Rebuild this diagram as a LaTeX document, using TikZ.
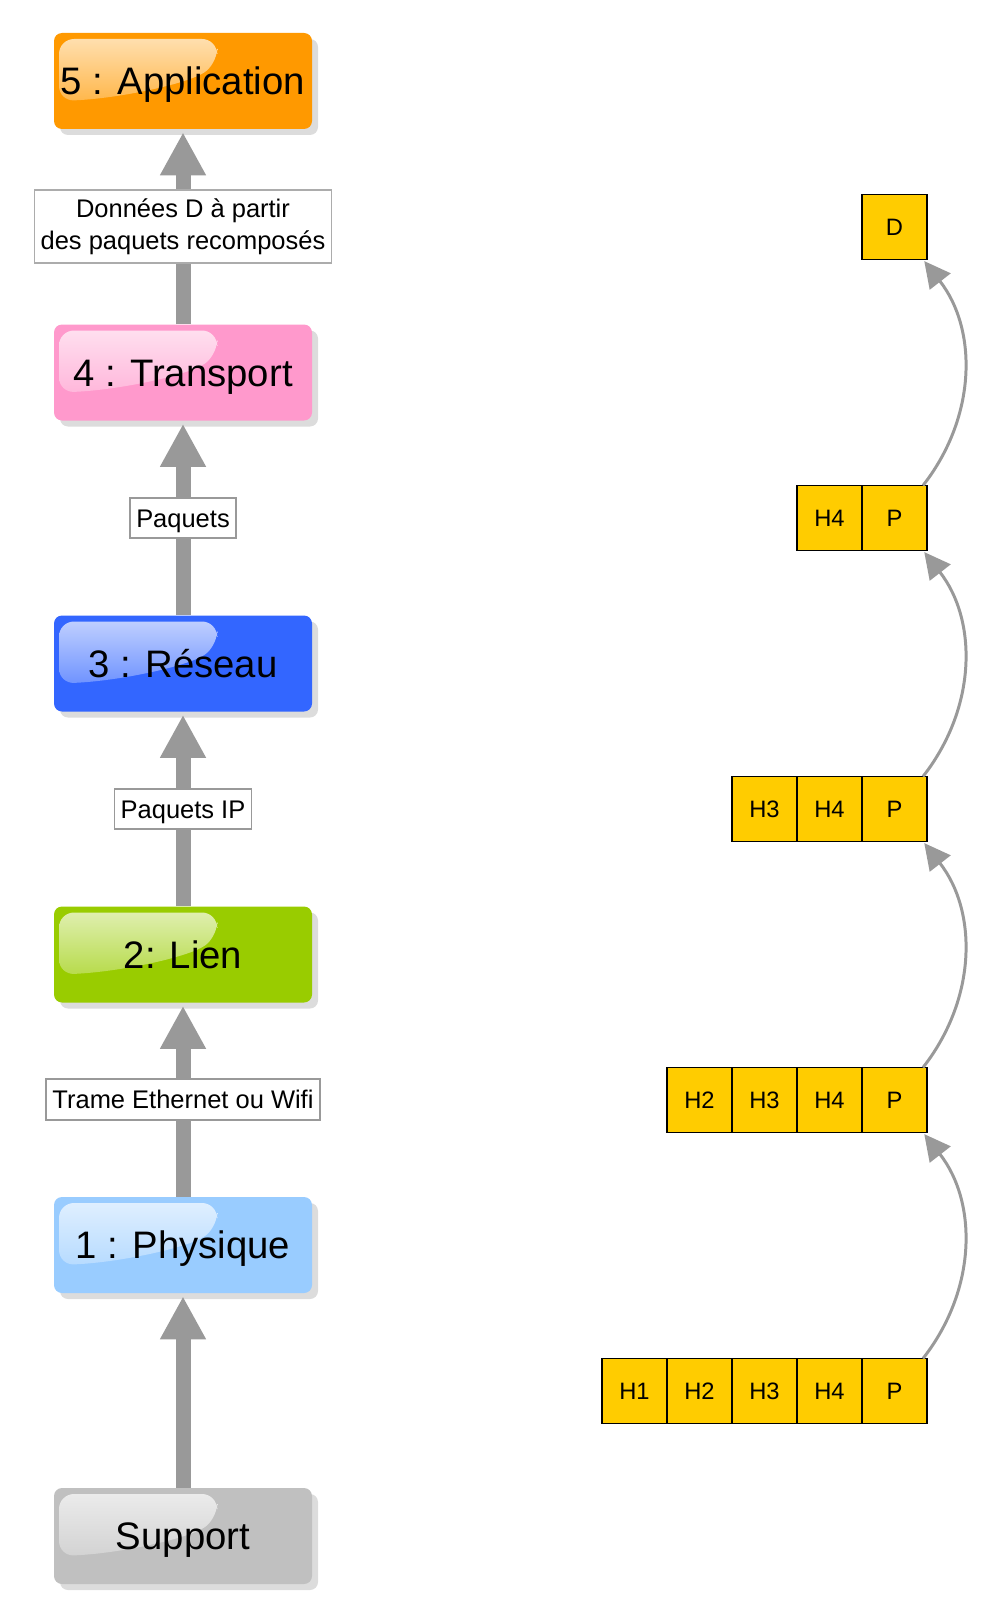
\documentclass[tikz,border=0pt]{standalone}
\usepackage{fontspec}
\setmainfont{Liberation Sans}
\usetikzlibrary{arrows.meta,shadows,positioning}
\definecolor{appli}{HTML}{FF9900}
\definecolor{transp}{HTML}{FF99CC}
\definecolor{reseau}{HTML}{3366FF}
\definecolor{lien}{HTML}{99CC00}
\definecolor{phys}{HTML}{99CCFF}
\definecolor{supp}{HTML}{C0C0C0}
\definecolor{paquet}{HTML}{FFCC00}
\definecolor{fleche}{HTML}{999999}

\begin{document}
\begin{tikzpicture}
      [layer node/.style={rectangle,rounded corners=0.16cm,fill=#1,minimum width=5.16cm,minimum height=1.92cm,
         inner sep=0pt,text height=15.6pt,text depth=0pt,font=\fontsize{21.8}{26}\selectfont,
         drop shadow={shadow xshift=0.12cm,shadow yshift=-0.12cm,opacity=0.28},
         path picture={\shade[top color=white!72!#1,bottom color=white!12!#1,rounded corners=0.3cm]
           ([shift={(0.1,-0.12)}]path picture bounding box.north west) -- ++(3.16,0) -- ++(0,-0.5)
           .. controls +(-0.6,-0.4) and +(1.2,0.05) .. ([shift={(0.1,-1.36)}]path picture bounding box.north west) -- cycle;}},
       tag node/.style={draw,fill=white,line width=1.1pt,inner xsep=3.5pt,inner ysep=6.4pt,
         text height=10.4pt,text depth=0pt,font=\fontsize{14.5}{18.2}\selectfont},
       tag box/.style={draw=gray!65,fill=white,line width=1.1pt,inner xsep=3.5pt,inner ysep=4.8pt,
         align=center,font=\fontsize{14.5}{18.2}\selectfont},
       cell node/.style={draw,fill=paquet,line width=1.1pt,minimum size=1.3cm,inner sep=0pt,outer sep=0pt,
         text height=9.7pt,text depth=0pt,font=\fontsize{13.5}{16}\selectfont},
       big arrow/.style={draw=fleche,line width=0.3cm,shorten >=0.06cm,-{Triangle[length=0.86cm,width=0.86cm]}},
       small arrow/.style={draw=fleche,line width=1.7pt,shorten >=0.04cm,-{Triangle[length=0.52cm,width=0.52cm]}}]
        \useasboundingbox (0,0) rectangle (20,-32.36);

        \node[layer node=appli] (app) at (3.66,-1.62) {5 : Application};
        \node[layer node=transp] (tra) at (3.66,-7.45) {4 : Transport};
        \node[layer node=reseau] (res) at (3.66,-13.27) {3 : Réseau};
        \node[layer node=lien] (lie) at (3.66,-19.09) {2: Lien};
        \node[layer node=phys] (phy) at (3.66,-24.9) {1 : Physique};
        \node[layer node=supp] (sup) at (3.66,-30.72) {Support};

        \draw[big arrow] (sup) -- (phy);
        \draw[big arrow] (phy) -- node[tag node] (t1) {Trame Ethernet ou Wifi} (lie);
        \draw[big arrow] (lie) -- node[tag node] (t2) {Paquets IP} (res);
        \draw[big arrow] (res) -- node[tag node] (t3) {Paquets} (tra);
        \draw[big arrow] (tra) -- node[tag box] (t4) {Données D à partir\\des paquets recomposés} (app);

        \node[cell node] (d1) at (17.89,-4.54) {D};

        \node[cell node] (p2) at (17.89,-10.36) {P};
        \node[cell node,left=0pt of p2] (h42) {H4};

        \node[cell node] (p3) at (17.89,-16.18) {P};
        \node[cell node,left=0pt of p3] (h43) {H4};
        \node[cell node,left=0pt of h43] (h33) {H3};

        \node[cell node] (p4) at (17.89,-22) {P};
        \node[cell node,left=0pt of p4] (h44) {H4};
        \node[cell node,left=0pt of h44] (h34) {H3};
        \node[cell node,left=0pt of h34] (h24) {H2};

        \node[cell node] (p5) at (17.89,-27.82) {P};
        \node[cell node,left=0pt of p5] (h45) {H4};
        \node[cell node,left=0pt of h45] (h35) {H3};
        \node[cell node,left=0pt of h35] (h25) {H2};
        \node[cell node,left=0pt of h25] (h15) {H1};

        \draw[small arrow] ([xshift=-0.08cm]p5.north east) to[bend right=38] ([xshift=-0.08cm]p4.south east);
        \draw[small arrow] ([xshift=-0.08cm]p4.north east) to[bend right=38] ([xshift=-0.08cm]p3.south east);
        \draw[small arrow] ([xshift=-0.08cm]p3.north east) to[bend right=38] ([xshift=-0.08cm]p2.south east);
        \draw[small arrow] ([xshift=-0.08cm]p2.north east) to[bend right=38] ([xshift=-0.08cm]d1.south east);

      \end{tikzpicture}
\end{document}
